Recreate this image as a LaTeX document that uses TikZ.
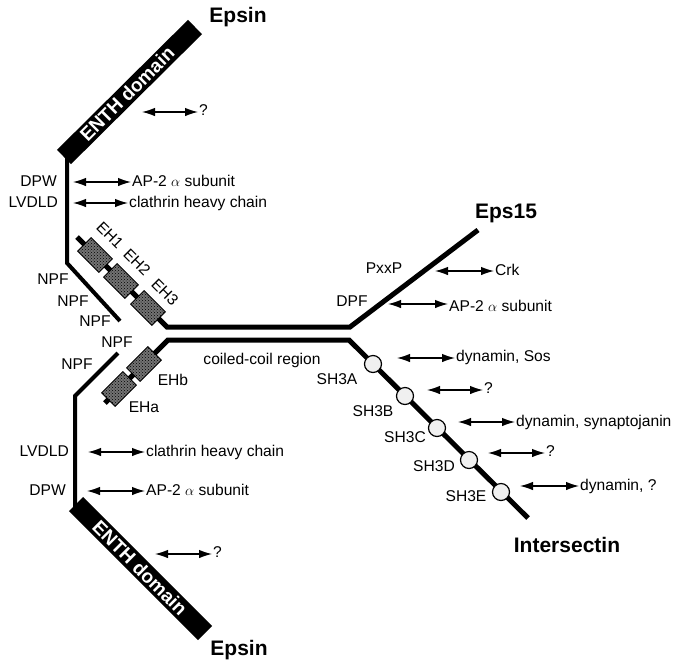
\documentclass[tikz,border=0pt]{standalone}
\usepackage{fontspec}
\setmainfont{Liberation Sans}
\usetikzlibrary{arrows.meta,patterns}
\begin{document}
\begin{tikzpicture}[x=1pt,y=-1pt,
  lbl/.style={inner sep=1pt, font=\fontsize{15.6}{18}\selectfont, text height=11pt, text depth=3pt},
  title/.style={inner sep=0pt, font=\bfseries\fontsize{21}{24}\selectfont},
  biarrow/.style={{Latex[length=13pt,width=8.5pt]}-{Latex[length=13pt,width=8.5pt]}, line width=1.2pt},
  epsline/.style={line width=4pt, line cap=butt},
  mainline/.style={line width=5pt, line cap=butt},
  enth/.style={line width=20pt, line cap=butt},
  enthtext/.style={text=white, font=\bfseries\fontsize{19}{22}\selectfont, inner sep=0pt},
  ehbox/.style={draw=black, line width=0.9pt, fill=black!55, postaction={pattern=crosshatch dots, pattern color=black}, minimum width=30pt, minimum height=19pt, inner sep=0pt},
  sh3/.style={circle, draw=black, line width=1.2pt, fill=black!6, minimum size=17pt, inner sep=0pt},
]
\useasboundingbox (0,0) rectangle (677,665);

% ---------- top Epsin ----------
\coordinate (ta) at (64,157);
\coordinate (tb) at (195,27);
\draw[epsline] (67,152) -- (67,263) -- (120,321);
\draw[enth] (ta) -- (tb);
\node[enthtext, rotate=45] (enthtop) at (127,94) {ENTH domain};
\node[title] (epsintop) at (238,17) {Epsin};

\coordinate (qa) at (142,112);
\node[lbl, anchor=west] (qat) at (198,111) {?};
\draw[biarrow] (qa) -- (qat.west |- qa);

\node[lbl, anchor=east] (dpw1) at (58,182) {DPW};
\coordinate (a1) at (73,182);
\node[lbl, anchor=west] (ap1) at (131,182) {AP-2 $\alpha$ subunit};
\draw[biarrow] (a1) -- (ap1.west |- a1);

\node[lbl, anchor=east] (lv1) at (59,203) {LVDLD};
\coordinate (a2) at (73,203);
\node[lbl, anchor=west] (cl1) at (128,203) {clathrin heavy chain};
\draw[biarrow] (a2) -- (cl1.west |- a2);

\node[lbl] (npf1) at (53,280) {NPF};
\node[lbl] (npf2) at (73,302) {NPF};
\node[lbl] (npf3) at (95,322) {NPF};
\node[lbl] (npf4) at (117,343) {NPF};
\node[lbl] (npf5) at (77,365) {NPF};

% ---------- bottom Epsin ----------
\coordinate (ba) at (76,504);
\coordinate (bb) at (205,633);
\draw[epsline] (118,353) -- (75,396) -- (75,508);
\draw[enth] (ba) -- (bb);
\node[enthtext, rotate=-45] (enthbot) at (140,568) {ENTH domain};
\node[title] (epsinbot) at (239,650) {Epsin};

\coordinate (qb) at (155,554);
\node[lbl, anchor=west] (qbt) at (212,553) {?};
\draw[biarrow] (qb) -- (qbt.west |- qb);

\node[lbl, anchor=east] (lv2) at (70,452) {LVDLD};
\coordinate (a3) at (88,452);
\node[lbl, anchor=west] (cl2) at (145,452) {clathrin heavy chain};
\draw[biarrow] (a3) -- (cl2.west |- a3);

\node[lbl, anchor=east] (dpw2) at (67,491) {DPW};
\coordinate (a4) at (87,491);
\node[lbl, anchor=west] (ap2) at (145,491) {AP-2 $\alpha$ subunit};
\draw[biarrow] (a4) -- (ap2.west |- a4);

% ---------- Eps15 ----------
\draw[mainline] (77,237) -- (167,327) -- (350,327) -- (478,230);
\node[ehbox, rotate=-45] (eh1) at (95,255) {};
\node[ehbox, rotate=-45] (eh2) at (121,281) {};
\node[ehbox, rotate=-45] (eh3) at (148,308) {};
\node[lbl, rotate=-45] (eh1t) at (109,236) {EH1};
\node[lbl, rotate=-45] (eh2t) at (136,263) {EH2};
\node[lbl, rotate=-45] (eh3t) at (164,293) {EH3};
\node[title] (eps15) at (506,213) {Eps15};

\node[lbl] (pxxp) at (384,269) {PxxP};
\coordinate (a5) at (435,271);
\node[lbl, anchor=west] (crk) at (494,271) {Crk};
\draw[biarrow] (a5) -- (crk.west |- a5);

\node[lbl] (dpf) at (352,302) {DPF};
\coordinate (a6) at (388,304);
\node[lbl, anchor=west] (ap3) at (448,307) {AP-2 $\alpha$ subunit};
\draw[biarrow] (a6) -- (ap3.west |- a6);

% ---------- Intersectin ----------
\draw[mainline] (105,403) -- (168,340) -- (349,340) -- (528,518);
\node[ehbox, rotate=45] (ehb) at (144,364) {};
\node[ehbox, rotate=45] (eha) at (119,389) {};
\node[lbl] (ehbt) at (173,381) {EHb};
\node[lbl] (ehat) at (144,408) {EHa};
\node[lbl] (cc) at (262,360) {coiled-coil region};

\node[sh3] (sa) at (373,364) {};
\node[sh3] (sb) at (405,396) {};
\node[sh3] (sc) at (437,428) {};
\node[sh3] (sd) at (469,460) {};
\node[sh3] (se) at (501,492) {};
\node[lbl] (sat) at (337,380) {SH3A};
\node[lbl] (sbt) at (373,412) {SH3B};
\node[lbl] (sct) at (405,438) {SH3C};
\node[lbl] (sdt) at (434,467) {SH3D};
\node[lbl] (set) at (466,497) {SH3E};

\coordinate (a7) at (397,358);
\node[lbl, anchor=west] (dys) at (455,357) {dynamin, Sos};
\draw[biarrow] (a7) -- (dys.west |- a7);

\coordinate (a8) at (427,390);
\node[lbl, anchor=west] (q3) at (483,389) {?};
\draw[biarrow] (a8) -- (q3.west |- a8);

\coordinate (a9) at (458,422);
\node[lbl, anchor=west] (dysy) at (515,422) {dynamin, synaptojanin};
\draw[biarrow] (a9) -- (dysy.west |- a9);

\coordinate (a10) at (488,453);
\node[lbl, anchor=west] (q4) at (545,452) {?};
\draw[biarrow] (a10) -- (q4.west |- a10);

\coordinate (a11) at (520,486);
\node[lbl, anchor=west] (dyq) at (579,486) {dynamin, ?};
\draw[biarrow] (a11) -- (dyq.west |- a11);

\node[title] (inter) at (567,545) {Intersectin};
\end{tikzpicture}
\end{document}
